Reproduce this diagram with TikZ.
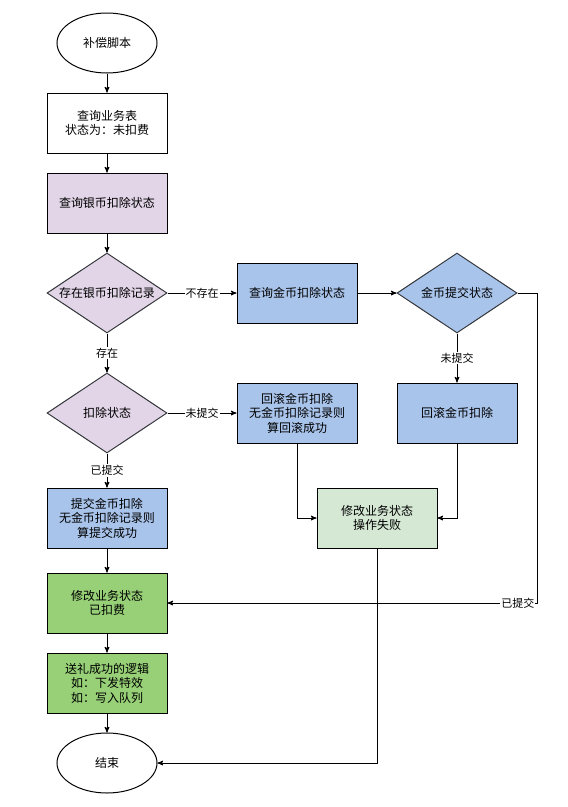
\documentclass[tikz,border=0pt]{standalone}
\usepackage{fontspec}
\newfontfamily\cjk{Noto Sans CJK SC}
\usetikzlibrary{arrows,shapes.geometric}
\definecolor{purplefill}{HTML}{E1D5E7}
\definecolor{bluefill}{HTML}{A9C4EB}
\definecolor{greenfill}{HTML}{97D077}
\definecolor{palegreen}{HTML}{D5E8D4}
\definecolor{diamondline}{HTML}{36393D}

\begin{document}
\begin{tikzpicture}[x=1pt,y=-1pt,->,>=stealth',line width=1pt,
  every node/.style={font=\cjk\fontsize{12}{14.5}\selectfont,align=center,text=black},
  box/.style={rectangle,draw=black,minimum width=120pt,minimum height=60pt,inner sep=0pt},
  terminal/.style={ellipse,draw=black,minimum width=100pt,minimum height=60pt,inner sep=0pt},
  decision/.style={diamond,aspect=1.5,draw=diamondline,minimum width=120pt,minimum height=80pt,inner sep=0pt},
  lbl/.style={fill=white,inner sep=1pt,font=\cjk\fontsize{11}{13}\selectfont}]

  \useasboundingbox (0,0) rectangle (568,807);

  \node[terminal] (start) at (107,43) {补偿脚本};
  \node[box] (query) at (107,123) {查询业务表\\状态为：未扣费};
  \node[box,fill=purplefill] (silver) at (107,203) {查询银币扣除状态};
  \node[decision,fill=purplefill] (hasrec) at (107,293) {存在银币扣除记录};
  \node[box,fill=bluefill] (gold) at (297,293) {查询金币扣除状态};
  \node[decision,fill=bluefill] (goldst) at (457,293) {金币提交状态};
  \node[box,fill=bluefill] (rbgold) at (457,413) {回滚金币扣除};
  \node[decision,fill=purplefill] (silverst) at (107,413) {扣除状态};
  \node[box,fill=bluefill] (rbsilver) at (297,413) {回滚金币扣除\\无金币扣除记录则\\算回滚成功};
  \node[box,fill=bluefill] (commit) at (107,518) {提交金币扣除\\无金币扣除记录则\\算提交成功};
  \node[box,fill=palegreen] (fail) at (377,518) {修改业务状态\\操作失败};
  \node[box,fill=greenfill] (paid) at (107,603) {修改业务状态\\已扣费};
  \node[box,fill=greenfill] (gift) at (107,683) {送礼成功的逻辑\\如：下发特效\\如：写入队列};
  \node[terminal] (finish) at (107,763) {结束};
  \coordinate (turn) at (537,293);

  \path
    (start) edge (query)
    (query) edge (silver)
    (silver) edge (hasrec)
    (hasrec) edge node[lbl] {不存在} (gold)
             edge node[lbl] {存在} (silverst)
    (gold) edge (goldst)
    (goldst) edge node[lbl] {未提交} (rbgold)
    (silverst) edge node[lbl] {未提交} (rbsilver)
               edge node[lbl] {已提交} (commit)
    (commit) edge (paid)
    (paid) edge (gift)
    (gift) edge (finish)
    ;

  \draw (rbsilver) |- (fail.west);
  \draw (rbgold) |- (fail.east);
  \draw (fail) |- (finish.east);
  \draw (goldst.east) -- (turn) |- node[lbl,pos=0.526] {已提交} (paid.east);
\end{tikzpicture}
\end{document}
